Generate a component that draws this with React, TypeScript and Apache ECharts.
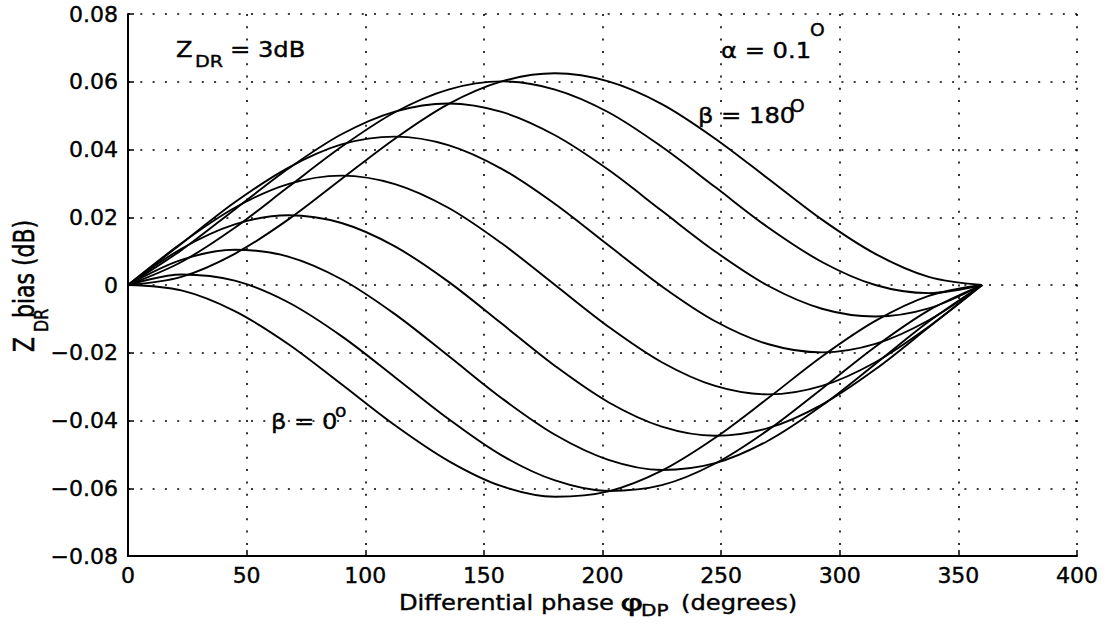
import React, { useEffect, useRef } from "react";
import * as echarts from "echarts";

// Differential phase (degrees)
const phi = [0, 22.5, 45, 67.5, 90, 112.5, 135, 157.5, 180, 202.5, 225, 247.5, 270, 292.5, 315, 337.5, 360];

// ZDR bias (dB) for each beta
const b0 = [0, -0.0016, -0.0077, -0.0174, -0.0293, -0.0414, -0.0519, -0.0594, -0.0625, -0.0609, -0.0548, -0.0451, -0.0333, -0.0211, -0.0106, -0.0032, 0];
const b22 = [0, 0.0031, 0.0013, -0.0051, -0.0151, -0.0272, -0.0395, -0.0503, -0.0577, -0.0608, -0.0591, -0.0527, -0.0427, -0.0306, -0.0182, -0.0075, 0];
const b45 = [0, 0.0074, 0.0104, 0.0084, 0.0017, -0.0086, -0.0209, -0.0334, -0.0442, -0.0516, -0.0546, -0.0526, -0.0459, -0.0356, -0.0233, -0.0108, 0];
const b67 = [0, 0.0107, 0.0179, 0.0206, 0.0183, 0.0114, 0.001, -0.0114, -0.0239, -0.0346, -0.0418, -0.0445, -0.0422, -0.0353, -0.0249, -0.0125, 0];
const b90 = [0, 0.0123, 0.0228, 0.0298, 0.0323, 0.0298, 0.0228, 0.0123, 0, -0.0123, -0.0228, -0.0298, -0.0323, -0.0298, -0.0228, -0.0123, 0];
const b112 = [0, 0.0122, 0.0244, 0.0346, 0.0415, 0.0438, 0.0413, 0.0343, 0.0239, 0.0117, -0.0004, -0.0107, -0.0175, -0.0199, -0.0174, -0.0104, 0];
const b135 = [0, 0.0103, 0.0223, 0.0343, 0.0445, 0.0512, 0.0536, 0.0511, 0.0442, 0.034, 0.0219, 0.0099, -0.0003, -0.007, -0.0093, -0.0069, 0];
const b157 = [0, 0.0068, 0.0169, 0.0289, 0.0408, 0.051, 0.0577, 0.0601, 0.0577, 0.051, 0.0408, 0.0289, 0.0169, 0.0068, 0, -0.0024, 0];
const b180 = [0, 0.0024, 0.0092, 0.0193, 0.0313, 0.0432, 0.0534, 0.0601, 0.0625, 0.0601, 0.0534, 0.0432, 0.0313, 0.0193, 0.0092, 0.0024, 0];

const betaNames = ["β=0°", "β=22.5°", "β=45°", "β=67.5°", "β=90°", "β=112.5°", "β=135°", "β=157.5°", "β=180°"];
const curves = [b0, b22, b45, b67, b90, b112, b135, b157, b180];

const FONT = '"DejaVu Sans", "Liberation Sans", Arial, sans-serif';

function txt(text: string, x: number, y: number, size: number, opts: any = {}) {
  return {
    type: "text",
    x,
    y,
    rotation: opts.rotation || 0,
    scaleX: opts.scaleX ?? 1.1,
    scaleY: opts.scaleY ?? 1,
    silent: true,
    style: {
      text,
      font: `${size}px ${FONT}`,
      fill: "#000",
      stroke: "#000",
      lineWidth: 0.4,
      align: "left",
      textAlign: "left",
      verticalAlign: "middle",
      textVerticalAlign: "middle",
    },
  };
}

export default function App() {
  const ref = useRef<HTMLDivElement>(null);
  useEffect(() => {
    if (!ref.current) return;
    const chart = echarts.init(ref.current, null, { renderer: "svg" });
    const series = curves.map((c, i) => ({
      name: betaNames[i],
      type: "line",
      data: phi.map((p, j) => [p, c[j]]),
      showSymbol: false,
      smooth: 0.33,
      lineStyle: { color: "#000", width: 1.9 },
      z: 3,
    }));
    const labelStyle = {
      color: "#000",
      fontFamily: FONT,
      fontSize: 22,
      textBorderColor: "#000",
      textBorderWidth: 0.4,
    };
    chart.setOption({
      animation: false,
      backgroundColor: "#fff",
      grid: { left: 128, top: 14, width: 949, height: 542, containLabel: false },
      xAxis: {
        type: "value",
        min: 0,
        max: 400,
        interval: 50,
        axisLine: { show: true, onZero: false, lineStyle: { color: "#000", width: 2 } },
        axisTick: { show: true, inside: true, length: 6, lineStyle: { color: "#000", width: 1.5 } },
        axisLabel: { ...labelStyle, margin: 8 },
        splitLine: { show: true, lineStyle: { color: "#000", width: 1.6, type: [2, 10.3] } },
      },
      yAxis: {
        type: "value",
        min: -0.08,
        max: 0.08,
        interval: 0.02,
        axisLine: { show: true, onZero: false, lineStyle: { color: "#000", width: 2 } },
        axisTick: { show: true, inside: true, length: 6, lineStyle: { color: "#000", width: 1.5 } },
        axisLabel: {
          ...labelStyle,
          margin: 10,
          formatter: (v: number) => (Math.abs(v) < 1e-9 ? "0" : (v < 0 ? "−" : "") + Math.abs(v).toFixed(2)),
        },
        splitLine: { show: true, lineStyle: { color: "#000", width: 1.6, type: [2, 10.3] } },
      },
      series,
      graphic: [
        // y-axis title (rotated)
        txt("Z", 24, 352, 22, { rotation: Math.PI / 2, scaleX: 1, scaleY: 1.3 }),
        txt("DR", 41.5, 332, 16, { rotation: Math.PI / 2, scaleX: 1, scaleY: 1.2 }),
        txt("bias (dB)", 24, 318, 22, { rotation: Math.PI / 2, scaleX: 1, scaleY: 1.3 }),
        // x-axis title
        txt("Differential phase", 399, 602, 22),
        txt("φ", 620, 603, 23, { scaleX: 1.55 }),
        txt("DP", 641, 610, 16, { scaleX: 1.25 }),
        txt("(degrees)", 681, 602, 22),
        // annotations
        txt("Z", 176, 49, 22),
        txt("DR", 195, 62, 16, { scaleX: 1.2 }),
        txt("= 3dB", 230, 49, 22),
        txt("α = 0.1", 721, 50, 22),
        txt("O", 810, 30, 17),
        txt("β = 180", 698, 115, 22),
        txt("O", 790, 106, 17),
        txt("β = 0", 271, 421, 22),
        txt("o", 335, 411, 17),
      ],
    });
    return () => chart.dispose();
  }, []);
  return (
    <div
      ref={ref}
      style={{ position: "absolute", left: 0, top: 0, width: 1105, height: 624, background: "#fff" }}
    />
  );
}
